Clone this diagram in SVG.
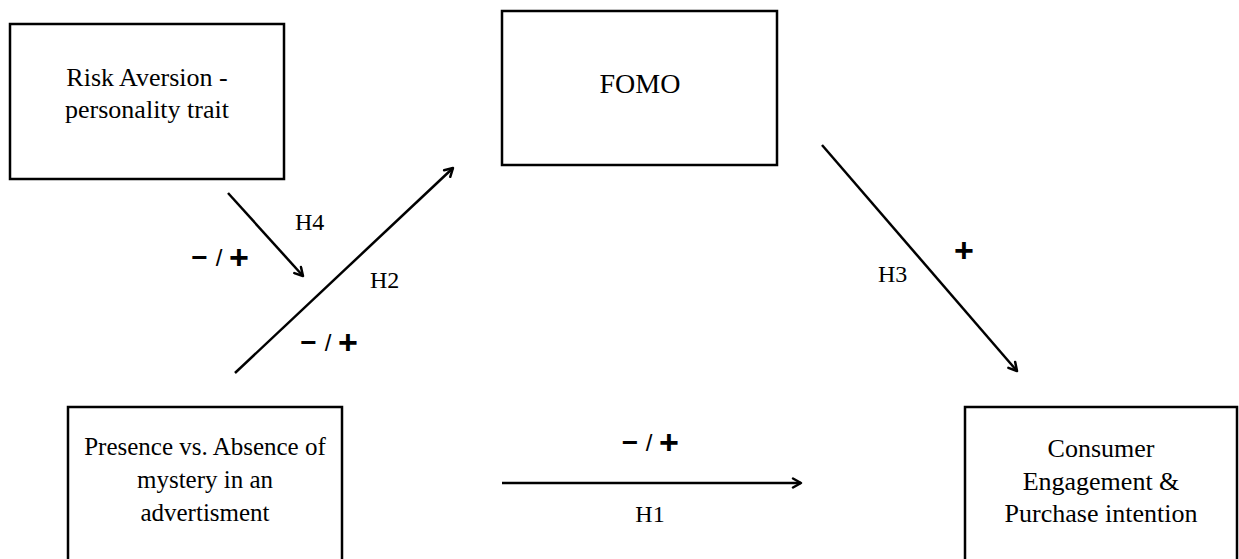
<svg xmlns="http://www.w3.org/2000/svg" width="1239" height="559" viewBox="0 0 1239 559">
<style>
.box{fill:#fff;stroke:#000;stroke-width:2.5}
.t{font-family:"Liberation Serif","Times New Roman",serif;font-size:26px;fill:#000;text-anchor:middle}
.lbl{font-family:"Liberation Serif","Times New Roman",serif;font-size:24px;fill:#000}
.s{font-family:"Liberation Sans",Arial,sans-serif;fill:#000;text-anchor:middle}
.mi{font-size:28px;font-weight:bold}
.sl{font-size:24px}
.pl{font-size:34px;font-weight:bold}
.c{stroke:#000;stroke-width:2.5;fill:none;marker-end:url(#ah)}
</style>
<defs>
<marker id="ah" viewBox="0 0 12 12" refX="10" refY="6" markerWidth="12" markerHeight="12" markerUnits="userSpaceOnUse" orient="auto">
<path d="M2,1.5 L10,6 L2,10.5" fill="none" stroke="#000" stroke-width="2.5" stroke-linecap="round" stroke-linejoin="round"/>
</marker>
</defs>
<rect width="1239" height="559" fill="#fff"/>
<g id="risk">
<rect class="box" x="10" y="24" width="274" height="155"/>
<text class="t" x="147" y="86">Risk Aversion -</text>
<text class="t" x="147" y="118">personality trait</text>
</g>
<g id="fomo">
<rect class="box" x="502" y="11" width="275" height="154"/>
<text class="t" x="640" y="93" style="font-size:28px">FOMO</text>
</g>
<g id="presence">
<rect class="box" x="68" y="407" width="274" height="170"/>
<text class="t" x="205" y="455" style="font-size:25px">Presence vs. Absence of</text>
<text class="t" x="205" y="488" style="font-size:25px">mystery in an</text>
<text class="t" x="205" y="521" style="font-size:25px">advertisment</text>
</g>
<g id="consumer">
<rect class="box" x="965" y="407" width="272" height="170"/>
<text class="t" x="1101" y="457">Consumer</text>
<text class="t" x="1101" y="490">Engagement &amp;</text>
<text class="t" x="1101" y="522">Purchase intention</text>
</g>
<g id="connectors">
<line class="c" x1="228" y1="193" x2="303" y2="276"/>
<line class="c" x1="235" y1="373" x2="453" y2="168"/>
<line class="c" x1="822" y1="145" x2="1017" y2="371"/>
<line class="c" x1="502" y1="483" x2="801" y2="483"/>
</g>
<g id="labels">
<text class="lbl" x="295" y="230">H4</text>
<text class="lbl" x="370" y="288">H2</text>
<text class="lbl" x="878" y="282">H3</text>
<text class="lbl" x="650" y="522" text-anchor="middle">H1</text>
<g id="sign-h4">
<text class="s mi" x="199.5" y="266.5">−</text>
<text class="s sl" x="219" y="265.6">/</text>
<text class="s pl" x="239" y="268.6">+</text>
</g>
<g id="sign-h2">
<text class="s mi" x="308.5" y="351.5">−</text>
<text class="s sl" x="328" y="350.6">/</text>
<text class="s pl" x="348" y="353.6">+</text>
</g>
<g id="sign-h1">
<text class="s mi" x="630" y="451.5">−</text>
<text class="s sl" x="649" y="450.6">/</text>
<text class="s pl" x="669" y="453.6">+</text>
</g>
<text class="s pl" x="964" y="261.6">+</text>
</g>
</svg>
